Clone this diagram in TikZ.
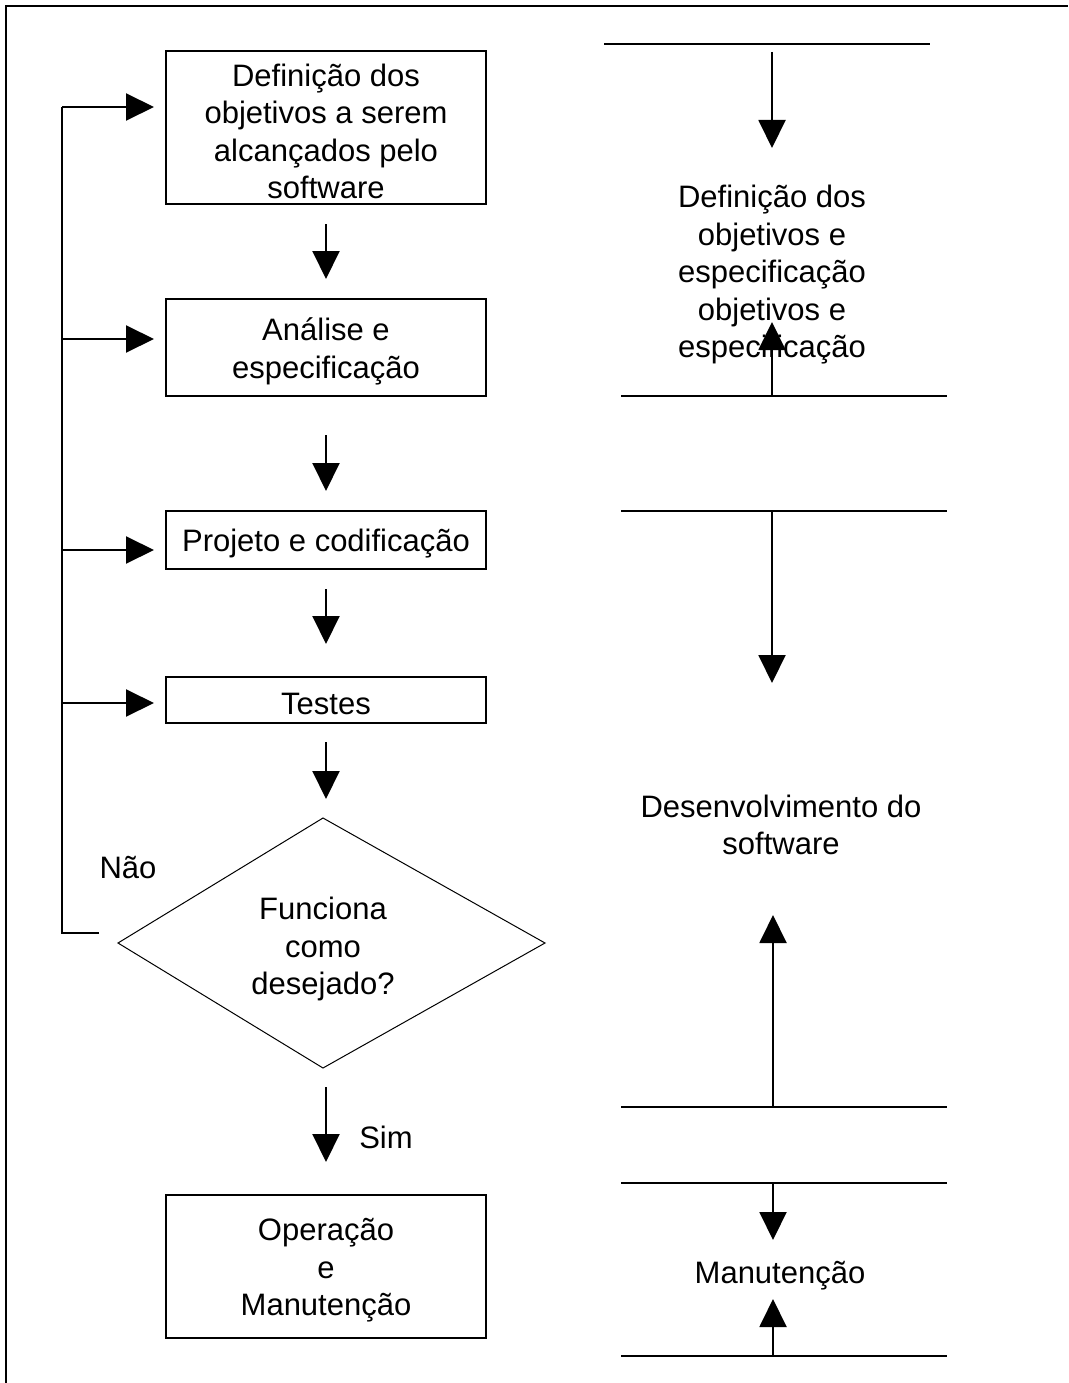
\documentclass[tikz,border=0pt]{standalone}
\usepackage{fontspec}
\setmainfont{Liberation Sans}
\usetikzlibrary{arrows.meta}
\begin{document}
\begin{tikzpicture}[x=1pt,y=-1pt,
  every node/.style={font=\fontsize{31}{37.5}\selectfont, align=center, inner sep=0pt},
  stepbox/.style={draw, line width=2pt, minimum width=320pt},
  steptext/.style={yshift=-4pt},
  flow/.style={line width=2pt, -{Triangle[length=28pt,width=27pt]}},
  rule/.style={line width=1.4pt},
  loopline/.style={line width=2pt},
  frame/.style={line width=2.4pt}]
\useasboundingbox (0,0) rectangle (1068,1383);

% outer frame (top and left edges)
\draw[frame] (6,1383) -- (6,6) -- (1068,6);

% process steps
\node[stepbox, minimum height=153pt,
  label={[steptext]center:{Definição dos\\objetivos a serem\\alcançados pelo\\software}}] (b1) at (326,127.5) {};
\node[stepbox, minimum height=97pt,
  label={[steptext]center:{Análise e\\especificação}}] (b2) at (326,347.5) {};
\node[stepbox, minimum height=58pt,
  label={[steptext]center:{Projeto e codificação}}] (b3) at (326,540) {};
\node[stepbox, minimum height=46pt,
  label={[steptext]center:{Testes}}] (b4) at (326,700) {};
\node[stepbox, minimum height=143pt,
  label={[steptext]center:{Operação\\e\\Manutenção}}] (b5) at (326,1266.5) {};

% decision
\coordinate (dT) at (323,818);
\coordinate (dR) at (545,943);
\coordinate (dB) at (323,1068);
\coordinate (dL) at (118,943);
\draw[line width=1pt] (dT) -- (dR) -- (dB) -- (dL) -- cycle;
\node (q) at (323,949) {Funciona\\como\\desejado?};

% main flow
\draw[flow, shorten <=19pt, shorten >=19pt] (b1) -- (b2);
\draw[flow, shorten <=38pt, shorten >=19pt] (b2) -- (b3);
\draw[flow, shorten <=19pt, shorten >=32pt] (b3) -- (b4);
\draw[flow, shorten <=18pt, shorten >=19pt] (b4.south) -- (b4.south |- dT);
\draw[flow, shorten <=19pt, shorten >=32pt] (b5.north |- dB) -- (b5.north);
\node (sim) at (386,1137) {Sim};

% feedback loop
\coordinate (nao) at (99,933);
\coordinate (l0) at (62,933);
\coordinate (l1) at (62,107);
\coordinate (l2) at (62,339);
\coordinate (l3) at (62,550);
\coordinate (l4) at (62,703);
\draw[loopline] (nao) -- (l0) -- (l1);
\draw[flow, shorten >=11pt] (l1) -- (l1 -| b1.west);
\draw[flow, shorten >=11pt] (l2) -- (l2 -| b2.west);
\draw[flow, shorten >=11pt] (l3) -- (l3 -| b3.west);
\draw[flow, shorten >=11pt] (l4) -- (l4 -| b4.west);
\node (naolbl) at (128,868) {Não};

% phases column
\coordinate (sA1) at (604,44);  \coordinate (sA2) at (930,44);
\coordinate (sB1) at (621,396); \coordinate (sB2) at (947,396);
\coordinate (sC1) at (621,511); \coordinate (sC2) at (947,511);
\coordinate (sD1) at (621,1107); \coordinate (sD2) at (947,1107);
\coordinate (sE1) at (621,1183); \coordinate (sE2) at (947,1183);
\coordinate (sF1) at (621,1356); \coordinate (sF2) at (947,1356);
\foreach \s in {A,B,C,D,E,F} \draw[rule] (s\s1) -- (s\s2);

\node (t1) at (772,275) {Definição dos\\objetivos e\\especificação\\objetivos e\\especificação};
\node (t2) at (781,825) {Desenvolvimento do\\software};
\node (t3) at (780,1276) {Manutenção};

\coordinate (a1s) at (772,52);   \coordinate (a1e) at (772,148);
\coordinate (a2s) at (772,396);  \coordinate (a2e) at (772,322);
\coordinate (a3s) at (772,511);  \coordinate (a3e) at (772,683);
\coordinate (a4s) at (773,1107); \coordinate (a4e) at (773,915);
\coordinate (a5s) at (773,1183); \coordinate (a5e) at (773,1240);
\coordinate (a6s) at (773,1356); \coordinate (a6e) at (773,1299);
\foreach \i in {1,...,6} \draw[flow] (a\i s) -- (a\i e);
\end{tikzpicture}
\end{document}
